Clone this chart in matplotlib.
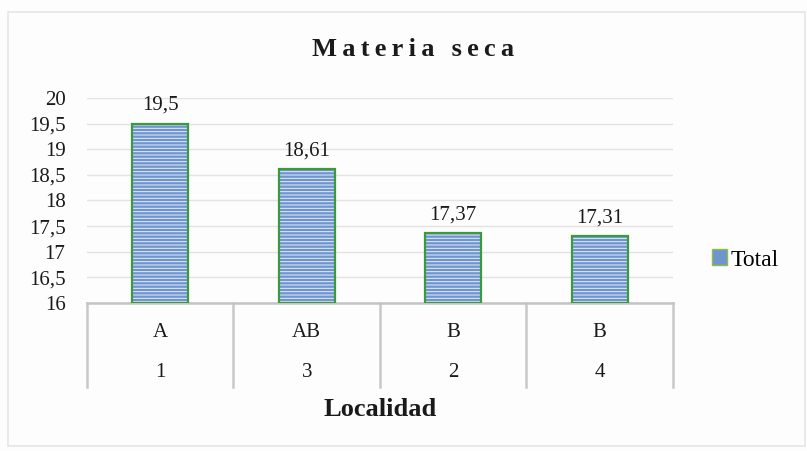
import matplotlib.pyplot as plt
from matplotlib.patches import Rectangle, Patch
import matplotlib.transforms as mtransforms

# data
localidad = ['1', '3', '2', '4']
letras = ['A', 'AB', 'B', 'B']
valores = [19.5, 18.61, 17.37, 17.31]
etiquetas = ['19,5', '18,61', '17,37', '17,31']
yticks = [16, 16.5, 17, 17.5, 18, 18.5, 19, 19.5, 20]
ytick_labels = ['16', '16,5', '17', '17,5', '18', '18,5', '19', '19,5', '20']

plt.rcParams['font.family'] = ['Liberation Serif', 'DejaVu Serif']
plt.rcParams['hatch.linewidth'] = 0.7

fig = plt.figure(figsize=(8.07, 4.51), dpi=100)
fig.patch.set_facecolor('#fdfdfd')
# outer chart border
fig.add_artist(Rectangle((0.010, 0.012), 0.988, 0.961, transform=fig.transFigure,
                         fill=False, edgecolor='#e6e6e6', linewidth=1.2))

ax = fig.add_axes([0.1078, 0.3282, 0.7261, 0.4545])
ax.set_facecolor('none')

x = list(range(len(valores)))
base = 16
heights = [v - base for v in valores]
# hatched fill
ax.bar(x, heights, bottom=base, width=0.385, color='#6f95d0', edgecolor='#e8eef8',
       hatch='-----', linewidth=0, zorder=3)
# green outline
ax.bar(x, heights, bottom=base, width=0.385, color='none', edgecolor='#3a9a3c',
       linewidth=1.6, zorder=4)

for xi, v, t in zip(x, valores, etiquetas):
    ax.text(xi, v + 0.17, t, ha='center', va='bottom', fontsize=15, color='#1a1a1a')

ax.set_xlim(-0.5, len(valores) - 0.5)
ax.set_ylim(16, 20)
ax.set_yticks(yticks)
ax.set_yticklabels(ytick_labels, fontsize=15, color='#1a1a1a')
ax.tick_params(axis='y', length=0, pad=15.5)
ax.set_xticks([])
ax.yaxis.grid(True, color='#e3e3e3', linewidth=1, zorder=0)
for s in ['top', 'right', 'left']:
    ax.spines[s].set_visible(False)
ax.spines['bottom'].set_color('#c4c4c4')
ax.spines['bottom'].set_linewidth(1.8)

# category table below axis
trans = mtransforms.blended_transform_factory(ax.transData, ax.transAxes)
h = 205
for b in [i - 0.5 for i in range(len(valores) + 1)]:
    ax.plot([b, b], [0, -84 / h], transform=trans, color='#c8c8c8', linewidth=1.8,
            clip_on=False)
for xi, l, n in zip(x, letras, localidad):
    ax.text(xi, -30 / h, l, transform=trans, ha='center', va='center',
            fontsize=15, color='#1a1a1a')
    ax.text(xi, -70 / h, n, transform=trans, ha='center', va='center',
            fontsize=15, color='#1a1a1a')

fig.text(380 / 807, 1 - 410 / 451, 'Localidad', ha='center', va='center', fontsize=19,
         fontweight='bold', color='#1a1a1a')
fig.text(413 / 807, 1 - 50 / 451,
         'M\u2009a\u2009t\u2009e\u2009r\u2009i\u2009a\u2009 \u2009s\u2009e\u2009c\u2009a',
         ha='center', va='center', fontsize=19, fontweight='bold', color='#1a1a1a')

leg = ax.legend(handles=[Patch(facecolor='#6f95d0', edgecolor='#8bbf4a', label='Total')],
                loc='center left', bbox_to_anchor=(1.03, 0.21), frameon=False,
                fontsize=17, handlelength=0.65, handleheight=0.65, handletextpad=0.15)

fig.savefig('out.png', dpi=100, facecolor=fig.get_facecolor())
